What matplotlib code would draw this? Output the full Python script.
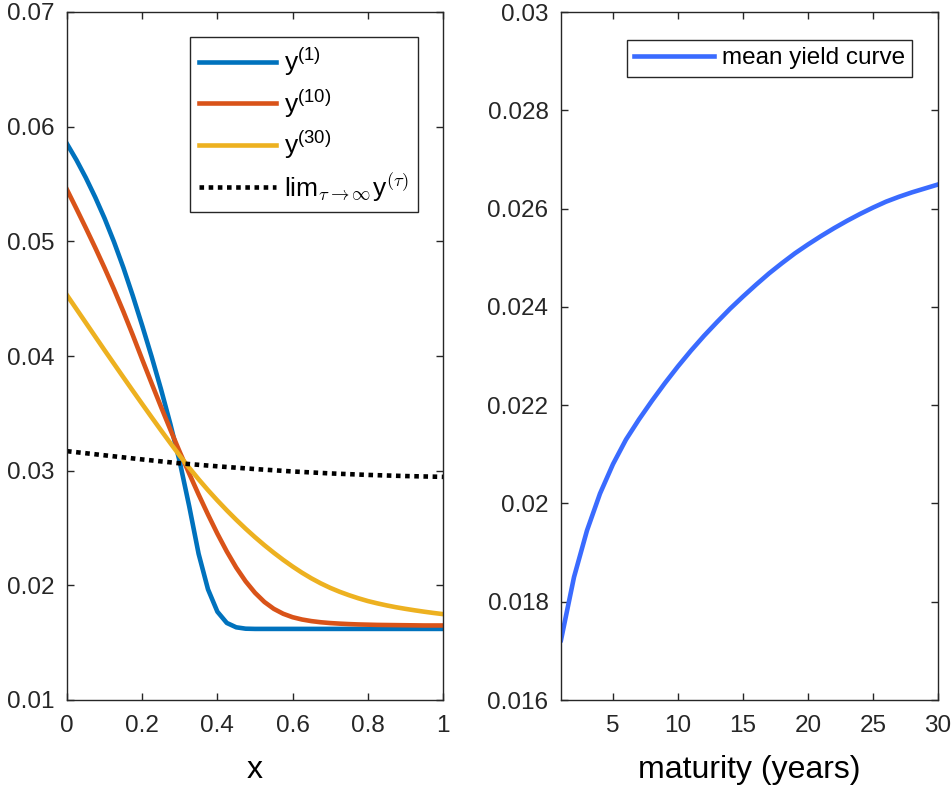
import matplotlib
matplotlib.use("Agg")
import matplotlib.pyplot as plt
import numpy as np

plt.rcParams['font.family'] = ['Liberation Sans', 'DejaVu Sans']
plt.rcParams['mathtext.fontset'] = 'custom'
plt.rcParams['mathtext.rm'] = 'Liberation Sans'
plt.rcParams['mathtext.it'] = 'Liberation Sans:italic'
plt.rcParams['mathtext.sf'] = 'Liberation Sans'

# ---------------- data (left panel) ----------------
x_grid = [0.000, 0.025, 0.050, 0.075, 0.100, 0.125, 0.150, 0.175, 0.200, 0.225,
          0.250, 0.275, 0.300, 0.325, 0.350, 0.375, 0.400, 0.425, 0.450, 0.475,
          0.500, 0.525, 0.550, 0.575, 0.600, 0.625, 0.650, 0.675, 0.700, 0.725,
          0.750, 0.775, 0.800, 0.825, 0.850, 0.875, 0.900, 0.925, 0.950, 0.975,
          1.000]
y_1 = [0.05850, 0.05710, 0.05555, 0.05385, 0.05200, 0.04995, 0.04770, 0.04525, 0.04265, 0.03995,
       0.03710, 0.03405, 0.03075, 0.02690, 0.02275, 0.01965, 0.01770, 0.01672, 0.01634, 0.01622,
       0.01620, 0.01620, 0.01620, 0.01620, 0.01620, 0.01620, 0.01620, 0.01620, 0.01620, 0.01620,
       0.01620, 0.01620, 0.01620, 0.01620, 0.01620, 0.01620, 0.01620, 0.01620, 0.01620, 0.01620,
       0.01620]
y_10 = [0.05450, 0.05285, 0.05117, 0.04945, 0.04767, 0.04582, 0.04387, 0.04182, 0.03970, 0.03762,
        0.03557, 0.03357, 0.03162, 0.02975, 0.02792, 0.02617, 0.02450, 0.02295, 0.02155, 0.02035,
        0.01935, 0.01855, 0.01795, 0.01752, 0.01722, 0.01702, 0.01688, 0.01678, 0.01671, 0.01666,
        0.01662, 0.01659, 0.01657, 0.01655, 0.01654, 0.01653, 0.01652, 0.01651, 0.01650, 0.01650,
        0.01650]
y_30 = [0.04530, 0.04410, 0.04290, 0.04170, 0.04050, 0.03932, 0.03814, 0.03697, 0.03581, 0.03466,
        0.03352, 0.03240, 0.03130, 0.03025, 0.02925, 0.02830, 0.02740, 0.02654, 0.02572, 0.02494,
        0.02420, 0.02350, 0.02284, 0.02222, 0.02164, 0.02110, 0.02061, 0.02017, 0.01978, 0.01944,
        0.01914, 0.01887, 0.01863, 0.01843, 0.01825, 0.01809, 0.01795, 0.01782, 0.01770, 0.01759,
        0.01749]
x_lim = [0.0, 0.1, 0.2, 0.3, 0.4, 0.5, 0.6, 0.7, 0.8, 0.9, 1.0]
y_lim = [0.03170, 0.03134, 0.03098, 0.03064, 0.03038, 0.03014, 0.02993, 0.02976,
         0.02963, 0.02953, 0.02946]
left_labels = [r'y$^{\mathrm{(1)}}$', r'y$^{\mathrm{(10)}}$', r'y$^{\mathrm{(30)}}$',
               r'lim$_{\tau\rightarrow\infty}$y$^{(\tau)}$']
left_xticks = [0, 0.2, 0.4, 0.6, 0.8, 1]
left_xticklabels = ['0', '0.2', '0.4', '0.6', '0.8', '1']
left_yticks = [0.01, 0.02, 0.03, 0.04, 0.05, 0.06, 0.07]
left_yticklabels = ['0.01', '0.02', '0.03', '0.04', '0.05', '0.06', '0.07']

# ---------------- data (right panel) ----------------
maturity = list(range(1, 31))
mean_yield = [0.01722, 0.01850, 0.01945, 0.02020, 0.02080, 0.02130, 0.02171, 0.02209,
              0.02245, 0.02279, 0.02311, 0.02341, 0.02369, 0.02396, 0.02421, 0.02445,
              0.02468, 0.02489, 0.02509, 0.02527, 0.02544, 0.02560, 0.02575, 0.02589,
              0.02602, 0.02614, 0.02624, 0.02633, 0.02641, 0.02649]
right_label = 'mean yield curve'
right_xticks = [5, 10, 15, 20, 25, 30]
right_yticks = [0.016, 0.018, 0.020, 0.022, 0.024, 0.026, 0.028, 0.030]
right_yticklabels = ['0.016', '0.018', '0.02', '0.022', '0.024', '0.026', '0.028', '0.03']

W, H = 953, 786
fig = plt.figure(figsize=(W / 100, H / 100), dpi=100)

ax1 = fig.add_axes([67 / W, (H - 700) / H, (443 - 67) / W, 688 / H])
ax2 = fig.add_axes([561 / W, (H - 700) / H, (938 - 561) / W, 688 / H])

lw = 3.3
ax1.plot(x_grid, y_1, color='#0072BD', lw=lw, label=left_labels[0])
ax1.plot(x_grid, y_10, color='#D95319', lw=lw, label=left_labels[1])
ax1.plot(x_grid, y_30, color='#EDB120', lw=lw, label=left_labels[2])
ax1.plot(x_lim, y_lim, color='black', lw=lw, linestyle=(0, (1, 1)),
         label=left_labels[3])
ax1.set_xlim(0, 1)
ax1.set_ylim(0.01, 0.07)
ax1.set_xticks(left_xticks)
ax1.set_xticklabels(left_xticklabels)
ax1.set_yticks(left_yticks)
ax1.set_yticklabels(left_yticklabels)
ax1.set_xlabel('x', fontsize=23, labelpad=13)

ax2.plot(maturity, mean_yield, color='#3A6BFF', lw=lw, label=right_label)
ax2.set_xlim(1, 30)
ax2.set_ylim(0.016, 0.030)
ax2.set_xticks(right_xticks)
ax2.set_yticks(right_yticks)
ax2.set_yticklabels(right_yticklabels)
ax2.set_xlabel('maturity (years)', fontsize=23, labelpad=13)

edge = '#262626'
for ax in (ax1, ax2):
    for s in ax.spines.values():
        s.set_color(edge)
        s.set_linewidth(1.0)
    ax.tick_params(direction='in', length=5, width=1.0, colors=edge,
                   labelcolor='#262626', labelsize=17.5, top=True, right=True)
    ax.tick_params(axis='y', pad=9)
    ax.tick_params(axis='x', pad=11)

leg1 = ax1.legend(loc='upper right', bbox_to_anchor=((418 - 67) / 376, (700 - 37) / 688),
                  borderaxespad=0, fontsize=19, handlelength=2.9, fancybox=False,
                  framealpha=1, edgecolor=edge, labelspacing=0.35, handletextpad=0.3,
                  borderpad=0.35)
leg1.get_frame().set_linewidth(1.0)
leg1.get_texts()[3].set_math_fontfamily('cm')
leg2 = ax2.legend(loc='upper right', bbox_to_anchor=((912 - 561) / 377, (700 - 40) / 688),
                  borderaxespad=0, fontsize=17.5, handlelength=3.3, fancybox=False,
                  framealpha=1, edgecolor=edge, handletextpad=0.3, borderpad=0.3)
leg2.get_frame().set_linewidth(1.0)

fig.savefig('out.png', dpi=100)
